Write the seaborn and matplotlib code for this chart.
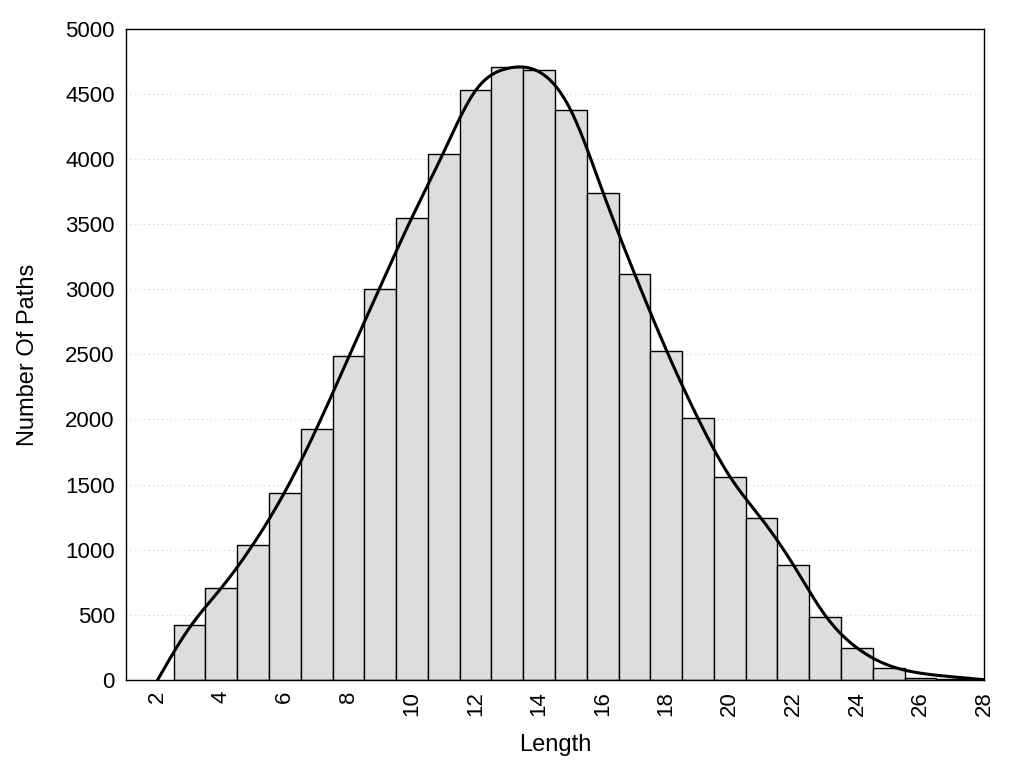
import numpy as np
import pandas as pd
import seaborn as sns
import matplotlib.pyplot as plt
from matplotlib.ticker import MultipleLocator

# path length histogram (bars centred on each length)
lengths = [3, 4, 5, 6, 7, 8, 9, 10, 11, 12, 13, 14, 15,
           16, 17, 18, 19, 20, 21, 22, 23, 24, 25, 26, 27]
num_paths = [421, 705, 1036, 1436, 1928, 2490, 3005, 3551, 4037, 4536, 4713, 4690, 4382,
             3744, 3121, 2528, 2013, 1559, 1244, 882, 482, 244, 88, 14, 3]

# knots of the smooth curve drawn over the bars
curve_x = [2, 3, 4, 5, 6, 7, 8, 9, 10, 11, 12, 13, 14, 15,
           16, 17, 18, 19, 20, 21, 22, 23, 24, 25, 26, 27, 28]
curve_y = [0, 400, 705, 1040, 1444, 1932, 2475, 3020, 3553, 4056, 4528, 4698, 4672, 4375,
           3752, 3122, 2535, 2008, 1562, 1236, 882, 495, 245, 110, 50, 22, 0]


def natural_spline(xk, yk, n=600):
    xk = np.asarray(xk, float)
    yk = np.asarray(yk, float)
    k = len(xk)
    h = np.diff(xk)
    A = np.zeros((k, k))
    r = np.zeros(k)
    A[0, 0] = A[-1, -1] = 1
    for i in range(1, k - 1):
        A[i, i - 1] = h[i - 1]
        A[i, i] = 2 * (h[i - 1] + h[i])
        A[i, i + 1] = h[i]
        r[i] = 6 * ((yk[i + 1] - yk[i]) / h[i] - (yk[i] - yk[i - 1]) / h[i - 1])
    m = np.linalg.solve(A, r)
    xs = np.linspace(xk[0], xk[-1], n)
    idx = np.clip(np.searchsorted(xk, xs) - 1, 0, k - 2)
    x0, x1 = xk[idx], xk[idx + 1]
    hh = x1 - x0
    a = (x1 - xs) / hh
    b = (xs - x0) / hh
    ys = (a * yk[idx] + b * yk[idx + 1]
          + ((a ** 3 - a) * m[idx] + (b ** 3 - b) * m[idx + 1]) * hh ** 2 / 6)
    return xs, ys


sns.set_style("white")
plt.rcParams["font.family"] = ["Liberation Sans", "DejaVu Sans"]
plt.rcParams["text.color"] = "black"
plt.rcParams["axes.labelcolor"] = "black"
plt.rcParams["xtick.labelcolor"] = "black"
plt.rcParams["ytick.labelcolor"] = "black"

fig = plt.figure(figsize=(10.24, 7.68), dpi=100)
ax = fig.add_axes([0.123, 0.115, 0.838, 0.847])

df = pd.DataFrame({"Length": lengths, "Paths": num_paths})
sns.barplot(data=df, x="Length", y="Paths", native_scale=True, width=1,
            color="#dddddd", saturation=1, edgecolor="black", linewidth=1, ax=ax)

sx, sy = natural_spline(curve_x, curve_y)
ax.plot(sx, sy, color="black", linewidth=2.2, zorder=3)

ax.set_xlim(1, 28)
ax.set_ylim(0, 5000)
ax.xaxis.set_major_locator(MultipleLocator(2))
ax.xaxis.set_minor_locator(MultipleLocator(1))
ax.yaxis.set_major_locator(MultipleLocator(500))
ax.set_axisbelow(True)
ax.grid(axis="y", linestyle=(0, (1, 3)), color="#cccccc", linewidth=0.8)
ax.grid(axis="x", visible=False)

ax.tick_params(axis="both", which="both", direction="in", length=8, width=1,
               color="black", labelcolor="black", labelsize=16)
ax.tick_params(axis="x", which="major", labelrotation=90, pad=8)
ax.tick_params(axis="y", pad=8)
for s in ax.spines.values():
    s.set_color("black")
    s.set_linewidth(1)

ax.set_xlabel("Length", fontsize=17, labelpad=13, color="black")
ax.set_ylabel("Number Of Paths", fontsize=17, labelpad=19, color="black")

fig.savefig("out.png", dpi=100)
